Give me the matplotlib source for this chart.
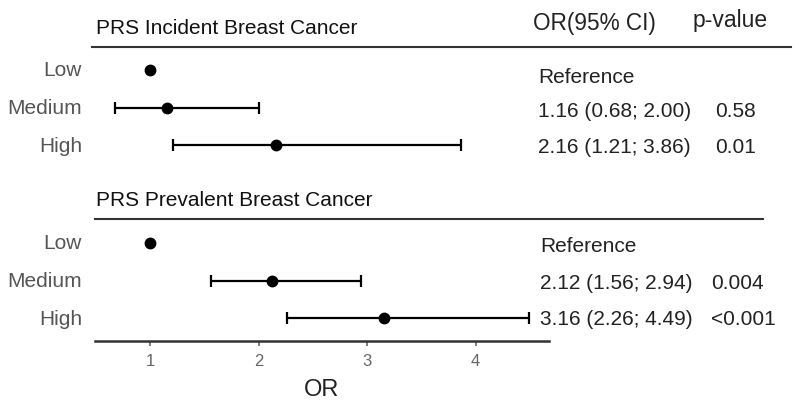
import numpy as np
import matplotlib
matplotlib.use("Agg")
import matplotlib.pyplot as plt

plt.rcParams['font.family'] = ['Liberation Sans', 'DejaVu Sans']

groups = ["PRS Incident Breast Cancer", "PRS Prevalent Breast Cancer"]
levels = ["Low", "Medium", "High"]
or_vals = [[1.00, 1.16, 2.16], [1.00, 2.12, 3.16]]
ci_low = [[np.nan, 0.68, 1.21], [np.nan, 1.56, 2.26]]
ci_high = [[np.nan, 2.00, 3.86], [np.nan, 2.94, 4.49]]
or_text = [["Reference", "1.16 (0.68; 2.00)", "2.16 (1.21; 3.86)"],
           ["Reference", "2.12 (1.56; 2.94)", "3.16 (2.26; 4.49)"]]
p_text = [["", "0.58", "0.01"], ["", "0.004", "<0.001"]]
x_ticks = [1, 2, 3, 4]

W, H = 799, 408
fig = plt.figure(figsize=(W / 100, H / 100), dpi=100)

# overlay axes in pixel units for layout text/lines
ov = fig.add_axes([0, 0, 1, 1])
ov.set_xlim(0, W)
ov.set_ylim(H, 0)
ov.axis('off')

# data axes
row_px0, row_step, grp_off = 70, 37.6, 4.6
ax_left, ax_right, ax_bottom_px = 95, 549, 341
ax = fig.add_axes([ax_left / W, (H - ax_bottom_px) / H, (ax_right - ax_left) / W, ax_bottom_px / H])
ax.set_zorder(2)
ax.patch.set_alpha(0)
ax.set_xlim(0.494, 4.675)
ax.set_ylim((ax_bottom_px - row_px0) / row_step, (0 - row_px0) / row_step)

for g in range(len(groups)):
    ys = np.array([g * grp_off + i for i in range(len(levels))])
    o = np.array(or_vals[g]); lo = np.array(ci_low[g]); hi = np.array(ci_high[g])
    err = np.vstack([o - lo, hi - o])
    ax.errorbar(o, ys, xerr=err, fmt='o', color='black', ms=7.5,
                elinewidth=1.6, capsize=4.2, capthick=1.6)

for s in ['top', 'right', 'left']:
    ax.spines[s].set_visible(False)
ax.spines['bottom'].set_color('#333333')
ax.spines['bottom'].set_linewidth(1.8)
ax.set_yticks([])
ax.set_xticks(x_ticks)
ax.set_xticklabels([str(t) for t in x_ticks])
ax.tick_params(axis='x', colors='#666666', labelsize=12, length=3.5, width=1.2, pad=6)
ax.set_xlabel("OR", fontsize=17, color='#222222', labelpad=7)

# headers and separators
hdr_base = [34, 206]
line_y = [47, 219]
line_x = [(92, 791), (95, 763)]
ci_x = [538, 540]
p_x = [715, 711]
text_dy = [[13, 9, 8], [9, 8, 7]]
for g in range(len(groups)):
    ov.text(96, hdr_base[g], groups[g], fontsize=15, color='#111111', va='baseline', ha='left')
    ov.plot(line_x[g], [line_y[g], line_y[g]], color='#333333', lw=1.5)
    for i, lev in enumerate(levels):
        y = row_px0 + (g * grp_off + i) * row_step
        ov.text(82, y + 6.5, lev, fontsize=15, color='#555555', va='baseline', ha='right')
        ov.text(ci_x[g], y + text_dy[g][i], or_text[g][i], fontsize=15, color='#222222',
                va='baseline', ha='left')
        ov.text(p_x[g], y + text_dy[g][i], p_text[g][i], fontsize=15, color='#222222',
                va='baseline', ha='left')

ov.text(533, 30, "OR(95% CI)", fontsize=16.3, color='#222222', va='baseline', ha='left')
ov.text(693, 27, "p-value", fontsize=16.5, color='#222222', va='baseline', ha='left')

fig.savefig("out.png", dpi=100)
